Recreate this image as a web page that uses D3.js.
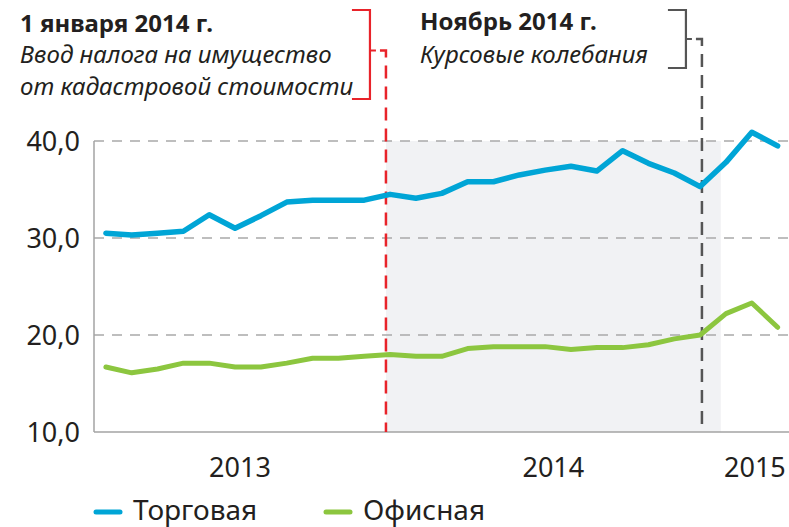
<!DOCTYPE html>
<html>
<head>
<meta charset="utf-8">
<script src="https://cdn.jsdelivr.net/npm/d3@7"></script>
<style>
  html, body { margin: 0; padding: 0; background: #fff; }
  svg { display: block; font-family: "Noto Sans", "Open Sans", sans-serif; }
  .tick-label { font-size: 27px; fill: #231f20; }
  .note-title { font-size: 24px; font-weight: bold; fill: #231f20; }
  .note-text { font-size: 24px; font-style: italic; fill: #231f20; }
  .legend-label { font-size: 28px; fill: #231f20; }
</style>
</head>
<body>
<div id="chart"></div>
<script>
// Monthly points, index 0..26 (roughly Dec 2012 – Feb 2015).
const trade  = [30.5, 30.3, 30.5, 30.7, 32.4, 31.0, 32.3, 33.7, 33.9, 33.9, 33.9,
                34.5, 34.1, 34.6, 35.8, 35.8, 36.5, 37.0, 37.4, 36.9, 39.0, 37.7,
                36.7, 35.3, 37.8, 40.9, 39.5];
const office = [16.7, 16.1, 16.5, 17.1, 17.1, 16.7, 16.7, 17.1, 17.6, 17.6, 17.8,
                18.0, 17.8, 17.8, 18.6, 18.8, 18.8, 18.8, 18.5, 18.7, 18.7, 19.0,
                19.6, 20.0, 22.2, 23.3, 20.8];
const yTicks = [10, 20, 30, 40];
const years = ["2013", "2014", "2015"];
const yearBounds = [-0.46, 10.84, 23.8, 26.44];   // in point-index units
const seriesNames = ["Торговая", "Офисная"];
const seriesColors = ["#00a5d6", "#8cc63f"];
const events = [
  { at: 10.84, color: "#e8232a", title: "1 января 2014 г.",
    lines: ["Ввод налога на имущество", "от кадастровой стоимости"] },
  { at: 23.07, color: "#555555", title: "Ноябрь 2014 г.",
    lines: ["Курсовые колебания"] }
];

const W = 789, H = 527;
const x = d3.scaleLinear([yearBounds[0], yearBounds[3]], [94, 789]);
const y = d3.scaleLinear([10, 40], [432, 141]);
const fmt = (d) => d.toFixed(1).replace(".", ",");

const svg = d3.select("#chart").append("svg").attr("width", W).attr("height", H);

// 2014 shaded period
svg.append("rect")
  .attr("x", x(yearBounds[1])).attr("y", y(40))
  .attr("width", x(yearBounds[2]) - x(yearBounds[1])).attr("height", y(10) - y(40))
  .attr("fill", "#f1f2f4");

// grid
svg.append("g").selectAll("line").data(yTicks.filter((d) => d > 10)).join("line")
  .attr("x1", x.range()[0]).attr("x2", x.range()[1])
  .attr("y1", (d) => y(d)).attr("y2", (d) => y(d))
  .attr("stroke", "#a9a9a9").attr("stroke-width", 1.5).attr("stroke-dasharray", "10,8");

// axes lines
svg.append("line").attr("x1", x.range()[0]).attr("x2", x.range()[0])
  .attr("y1", y(40)).attr("y2", y(10)).attr("stroke", "#a3a3a3").attr("stroke-width", 1.5);
svg.append("line").attr("x1", x.range()[0]).attr("x2", x.range()[1])
  .attr("y1", y(10)).attr("y2", y(10)).attr("stroke", "#a3a3a3").attr("stroke-width", 1.5);

// y tick labels
svg.append("g").selectAll("text").data(yTicks).join("text")
  .attr("class", "tick-label").attr("text-anchor", "end")
  .attr("x", 80).attr("y", (d) => y(d) + 10).text(fmt);

// year labels, centred in their spans
svg.append("g").selectAll("text").data(years).join("text")
  .attr("class", "tick-label").attr("text-anchor", "middle")
  .attr("x", (d, i) => (x(yearBounds[i]) + x(yearBounds[i + 1])) / 2)
  .attr("y", 477).text((d) => d);

// event markers + brackets + notes
events.forEach((ev, k) => {
  const ex = x(ev.at);
  const top = 10, bottom = k === 0 ? 99 : 68;
  const bx = ex - 16, mid = (top + bottom) / 2 + (k === 0 ? -4 : 0);
  svg.append("path")
    .attr("d", `M${bx - 18},${top}H${bx}V${bottom}H${bx - 18}M${bx},${mid}H${bx + 6}`)
    .attr("fill", "none").attr("stroke", ev.color).attr("stroke-width", 2.2);
  svg.append("path")
    .attr("d", `M${bx + 10},${mid}H${ex}V${y(10)}`)
    .attr("fill", "none").attr("stroke", ev.color).attr("stroke-width", 2.5)
    .attr("stroke-dasharray", "13,8");
  const tx = k === 0 ? 20 : 420;
  svg.append("text").attr("class", "note-title").attr("x", tx).attr("y", k === 0 ? 32 : 30).text(ev.title);
  ev.lines.forEach((l, j) => {
    svg.append("text").attr("class", "note-text").attr("x", tx).attr("y", 63 + j * 32).text(l);
  });
});

// series lines
const line = d3.line().x((d, i) => x(i)).y((d) => y(d));
[trade, office].forEach((s, k) => {
  svg.append("path").datum(s).attr("d", line)
    .attr("fill", "none").attr("stroke", seriesColors[k])
    .attr("stroke-width", k === 0 ? 5.5 : 5).attr("stroke-linejoin", "round").attr("stroke-linecap", "round");
});

// legend
const lg = svg.append("g").selectAll("g").data(seriesNames).join("g")
  .attr("transform", (d, i) => `translate(${i === 0 ? 96 : 326},512)`);
lg.append("line").attr("x1", 0).attr("x2", 24).attr("y1", 0).attr("y2", 0)
  .attr("stroke", (d, i) => seriesColors[i]).attr("stroke-width", 5).attr("stroke-linecap", "round");
lg.append("text").attr("class", "legend-label").attr("x", 37).attr("y", 8).text((d) => d);
</script>
</body>
</html>
